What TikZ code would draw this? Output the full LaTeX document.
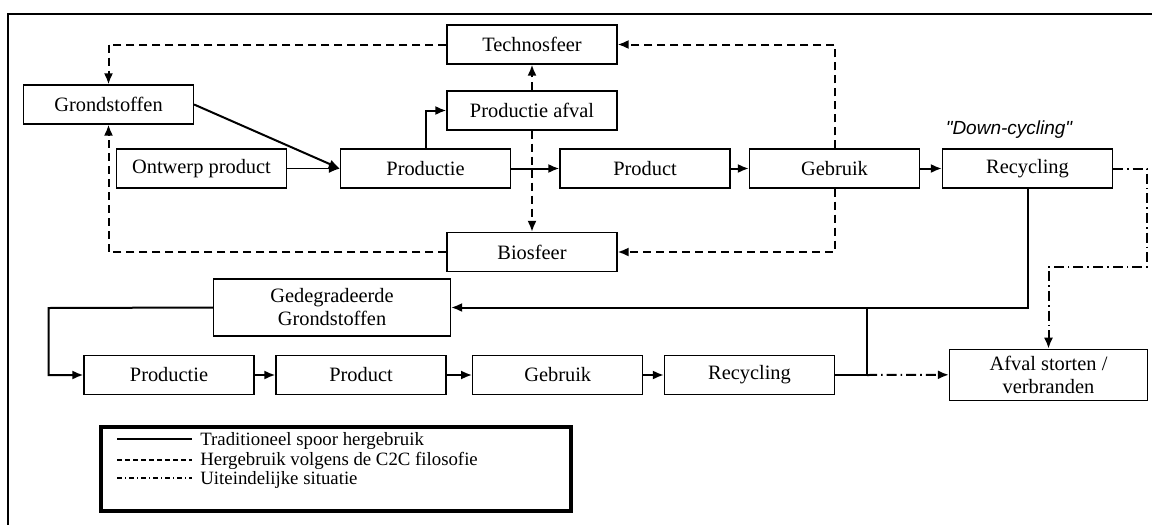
\documentclass[tikz,border=0pt]{standalone}
\usepackage{fontspec}
\setmainfont{Liberation Serif}
\newfontfamily\downfont{Liberation Sans}
\usetikzlibrary{arrows.meta}

\begin{document}
\begin{tikzpicture}[x=0.5pt,y=-0.5pt,
	blok/.style={draw,line width=0.6pt,minimum width=85pt,minimum height=19.5pt,inner sep=1pt,
		align=center,font=\fontsize{10.2}{11.5}\selectfont},
	pijl/.style={line width=1pt,-{Latex[length=5.5pt,width=4.5pt]}},
	c2c/.style={line width=1pt,dash pattern=on 4pt off 2.5pt,-{Latex[length=5.5pt,width=4.5pt]}},
	eind/.style={line width=1pt,dash pattern=on 5pt off 2pt on 0.8pt off 2pt,-{Latex[length=5.5pt,width=4.5pt]}},
	uitleg/.style={anchor=west,inner sep=0pt,font=\fontsize{9.4}{11}\selectfont}]
	\useasboundingbox (0,0) rectangle (1152,525);
	\draw[line width=1.1pt] (8,525) -- (8,14) -- (1152,14);
	% bovenste kringloop
	\node[blok] (techno) at (532,44.5) {Technosfeer};
	\node[blok] (afvalp) at (532,110.5) {Productie afval};
	\node[blok] (grond) at (108.5,104.5) {Grondstoffen};
	\node[blok] (ontwerp) at (201.5,168.5) {Ontwerp product};
	\node[blok] (prod) at (425.5,168.5) {Productie};
	\node[blok] (product) at (645,168.5) {Product};
	\node[blok] (gebruik) at (834.5,168.5) {Gebruik};
	\node[blok] (recyc) at (1027.5,168.5) {Recycling};
	\node[blok] (bios) at (532,252) {Biosfeer};
	\node[font=\downfont\itshape\fontsize{9.5}{11}\selectfont] (down) at (1009,130) {"Down-cycling"};
	% onderste rij
	\node[blok,minimum width=118.5pt,minimum height=28.5pt] (degr) at (332,307.5) {Gedegradeerde\\Grondstoffen};
	\node[blok] (prod2) at (169,375) {Productie};
	\node[blok] (product2) at (361,375) {Product};
	\node[blok] (gebruik2) at (557.7,375) {Gebruik};
	\node[blok] (recyc2) at (749.5,375) {Recycling};
	\node[blok,minimum width=99pt,minimum height=25.5pt] (storten) at (1048.5,374.8) {Afval storten /\\verbranden};
	\coordinate (knik) at (867,375);
	\coordinate (links) at (48.7,308);
	\coordinate (hoekR) at (1147,168.5);
	\coordinate (hoekRo) at (1147,267);
	\coordinate (hoekL) at (1048.5,267);
	% C2C
	\draw[c2c] (techno.west) -| (grond.north);
	\draw[c2c] (bios.west) -| (grond.south);
	\draw[c2c] (gebruik.north) |- (techno.east);
	\draw[c2c] (gebruik.south) |- (bios.east);
	\draw[c2c] (afvalp.north) -- (techno.south);
	\draw[c2c] (afvalp.south) -- (bios.north);
	% traditioneel
	\draw[pijl] (grond.east) -- (prod.west);
	\draw[pijl,line width=0.6pt] (ontwerp.east) -- (prod.west);
	\draw[pijl] (prod.north) |- (afvalp.west);
	\draw[pijl] (prod) -- (product);
	\draw[pijl] (product) -- (gebruik);
	\draw[pijl] (gebruik) -- (recyc);
	\draw[pijl] (recyc.south) |- (degr.east);
	\draw[pijl] (degr.west) -- (links) |- (prod2.west);
	\draw[pijl] (prod2) -- (product2);
	\draw[pijl] (product2) -- (gebruik2);
	\draw[pijl] (gebruik2) -- (recyc2);
	\draw[line width=1pt] (recyc2.east) -- (knik) -- (knik |- degr.east);
	% eindsituatie
	\draw[eind] (knik) -- (storten.west);
	\draw[eind] (recyc.east) -- (hoekR) -- (hoekRo) -- (hoekL) -- (storten.north);
	% legenda
	\node[draw,line width=1.6pt,minimum width=235pt,minimum height=42pt] (legenda) at (336,469) {};
	\draw[line width=0.7pt] (117,439) -- (192,439);
	\node[uitleg] (l1) at (200,441) {Traditioneel spoor hergebruik};
	\draw[line width=0.6pt,dash pattern=on 2.5pt off 1.5pt] (117,460) -- (192,460);
	\node[uitleg] (l2) at (200,461) {Hergebruik volgens de C2C filosofie};
	\draw[line width=0.6pt,dash pattern=on 2.5pt off 1.5pt on 0.5pt off 1.5pt] (117,478) -- (192,478);
	\node[uitleg] (l3) at (200,480) {Uiteindelijke situatie};
\end{tikzpicture}
\end{document}
